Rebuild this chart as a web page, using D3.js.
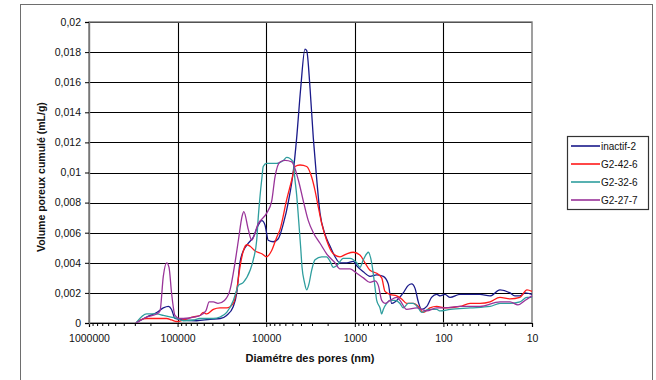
<!DOCTYPE html>
<html><head><meta charset="utf-8">
<script src="https://cdn.jsdelivr.net/npm/d3@7"></script>
<style>
body{margin:0;background:#fff;}
svg{display:block;font-family:"Liberation Sans",Arial,sans-serif;}
</style></head>
<body>
<svg id="c" width="656" height="380"></svg>
<script>
// ---- Data (diameter in nm, cumulative pore volume in mL/g) ----
const seriesNames = ["inactif-2", "G2-42-6", "G2-32-6", "G2-27-7"];
const seriesColors = ["#1a1a8a", "#ff1a1a", "#2f9e9e", "#993399"];

const inactif2 = [
 [295000,0],[223000,0.0004],[172000,0.0007],[145000,0.0010],[127000,0.0011],[117000,0.0009],
 [107000,0.0003],[86000,0.0002],[61000,0.00015],[43000,0.00025],[33000,0.0003],[28000,0.0005],
 [23500,0.0011],[21500,0.0020],[19800,0.0040],[18100,0.0048],[15900,0.0053],[14000,0.0057],
 [12300,0.0065],[11200,0.0068],[10300,0.0065],[9500,0.0055],[8300,0.0054],[7300,0.0056],
 [6400,0.0066],[5600,0.0081],[4940,0.0101],[4530,0.0123],[4080,0.0156],[3650,0.0182],
 [3490,0.0181],[3200,0.0156],[2940,0.0123],[2740,0.0101],[2470,0.0073],[2170,0.0059],
 [1900,0.0051],[1670,0.0044],[1470,0.0040],[1230,0.0040],[1040,0.0041],[950,0.0038],
 [800,0.0034],[674,0.0031],[566,0.0032],[477,0.0031],[419,0.0026],[383,0.0013],[352,0.0014],
 [323,0.0016],[284,0.0020],[249,0.0025],[228,0.0026],[209,0.0023],[192,0.0014],[176,0.0009],
 [154,0.0011],[136,0.0017],[119,0.0019],[109,0.0018],[96,0.0019],[84,0.0017],[65,0.0019],
 [50,0.0019],[38.6,0.0019],[29.8,0.0018],[23,0.0022],[17.7,0.0020],[15.6,0.0018],[13.7,0.0018],
 [12,0.0020],[10,0.0019]
];
const g2_42_6 = [
 [295000,0],[266000,0.0002],[223000,0.0003],[172000,0.0003],[133000,0.0003],[117000,0.0002],
 [102000,0.0001],[86000,0.0002],[66500,0.0004],[55900,0.0005],[51300,0.0007],[47000,0.0006],
 [39500,0.0009],[33200,0.0010],[27900,0.0010],[23500,0.0013],[21500,0.0022],[19800,0.0037],
 [18100,0.0048],[16600,0.0052],[15200,0.0051],[13400,0.0048],[11200,0.0046],[9900,0.0044],
 [8700,0.0048],[7600,0.0057],[6990,0.0062],[5870,0.0082],[5150,0.0095],[4730,0.0104],
 [4150,0.0105],[3490,0.0104],[3070,0.0097],[2810,0.0088],[2580,0.0077],[2360,0.0066],
 [2080,0.0055],[1750,0.0046],[1470,0.0044],[1230,0.0046],[1040,0.0047],[870,0.0045],
 [767,0.0040],[674,0.0035],[566,0.0033],[497,0.0030],[456,0.0021],[401,0.0019],[337,0.0018],
 [296,0.0016],[260,0.0013],[219,0.0013],[192,0.0011],[169,0.0007],[142,0.0010],[119,0.0011],
 [96,0.0010],[65,0.0011],[50,0.0013],[38.6,0.0013],[29.8,0.0014],[23,0.0017],[17.7,0.0016],
 [13.7,0.0017],[11.4,0.0022],[10,0.0021]
];
const g2_32_6 = [
 [295000,0],[223000,0.0006],[172000,0.0006],[145000,0.0005],[122000,0.0004],[102000,0.0003],
 [86000,0.00015],[66500,0.0002],[55900,0.0003],[39500,0.0003],[33200,0.0004],[27900,0.0007],
 [23500,0.0015],[21500,0.0022],[20600,0.0025],[18100,0.0027],[15200,0.0035],[14000,0.0042],
 [12800,0.0055],[12300,0.0070],[11750,0.0084],[11150,0.0097],[10800,0.0104],[9900,0.0106],
 [7600,0.0106],[6400,0.0108],[5870,0.0110],[4940,0.0107],[4770,0.0097],[4530,0.0085],
 [4300,0.0068],[4080,0.0050],[3940,0.0037],[3700,0.0027],[3490,0.0022],[3290,0.0026],
 [3070,0.0035],[2810,0.0042],[2360,0.0044],[2080,0.0044],[1900,0.0041],[1750,0.0037],
 [1600,0.0038],[1350,0.0043],[1130,0.0043],[952,0.0040],[873,0.0037],[802,0.0042],
 [734,0.0046],[704,0.0047],[645,0.0040],[592,0.0024],[566,0.0015],[519,0.0010],[497,0.0006],
 [477,0.0009],[437,0.0013],[401,0.0015],[352,0.0015],[309,0.0013],[284,0.0010],[249,0.0013],
 [219,0.0013],[192,0.0010],[176,0.0007],[148,0.0009],[119,0.0009],[109,0.0008],[84,0.0009],
 [50,0.0010],[29.8,0.0011],[23,0.0013],[17.7,0.0013],[13.7,0.0014],[11.4,0.0017],[10,0.0017]
];
const g2_27_7 = [
 [295000,0],[223000,0.0004],[172000,0.0006],[158000,0.0008],[145000,0.0031],[133000,0.0040],
 [125000,0.0037],[117000,0.0020],[107000,0.0005],[96000,0.0003],[86000,0.0003],[63600,0.0004],
 [55900,0.0005],[48000,0.0008],[44000,0.0014],[39500,0.0014],[35000,0.0013],[29600,0.0015],
 [25600,0.0022],[22500,0.0040],[20600,0.0055],[18700,0.0071],[17900,0.0074],[15900,0.0062],
 [14600,0.0055],[12300,0.0066],[9870,0.0073],[8670,0.0081],[7960,0.0097],[6990,0.0107],
 [6130,0.0108],[5150,0.0107],[4340,0.0095],[3810,0.0081],[3350,0.0068],[2940,0.0060],
 [2470,0.0053],[2080,0.0046],[1670,0.0040],[1470,0.0036],[1130,0.0036],[950,0.0033],
 [800,0.0030],[674,0.0027],[592,0.0028],[543,0.0025],[497,0.0015],[456,0.0013],[401,0.0015],
 [337,0.0017],[309,0.0015],[260,0.0009],[200,0.0010],[154,0.0008],[119,0.0010],[96,0.0010],
 [65,0.0011],[38.6,0.0011],[23,0.0014],[17.7,0.0014],[14.4,0.0012],[12,0.0015],[10,0.0018]
];
const seriesData = [inactif2, g2_42_6, g2_32_6, g2_27_7];

const xTickValues = [1000000, 100000, 10000, 1000, 100, 10];
const xTickLabels = ["1000000", "100000", "10000", "1000", "100", "10"];
const yTickValues = [0, 0.002, 0.004, 0.006, 0.008, 0.01, 0.012, 0.014, 0.016, 0.018, 0.02];
const yTickLabels = ["0", "0,002", "0,004", "0,006", "0,008", "0,01", "0,012", "0,014", "0,016", "0,018", "0,02"];

const xTitle = "Diamétre des pores (nm)";
const yTitle = "Volume poreux cumulé (mL/g)";

// ---- Drawing ----
const svg = d3.select("#c");
const L = 89, R = 532, T = 22, B = 323;
const x = d3.scaleLog().domain([1000000, 10]).range([L, R]);
const y = d3.scaleLinear().domain([0, 0.02]).range([B, T]);

// outer frame
svg.append("rect").attr("x", 20.5).attr("y", 4.5).attr("width", 632).attr("height", 380)
  .attr("fill", "none").attr("stroke", "#6e6e6e").attr("stroke-width", 1);

// grid
const grid = svg.append("g");
grid.selectAll("line.h").data(yTickValues.slice(1)).join("line")
  .attr("x1", L).attr("x2", R).attr("y1", d => Math.round(y(d)) + 0.5).attr("y2", d => Math.round(y(d)) + 0.5)
  .attr("stroke", "#000").attr("stroke-width", 1.1);
grid.selectAll("line.v").data(xTickValues.slice(1, -1)).join("line")
  .attr("y1", T).attr("y2", B).attr("x1", d => Math.round(x(d)) + 0.5).attr("x2", d => Math.round(x(d)) + 0.5)
  .attr("stroke", "#000").attr("stroke-width", 1.1);

// plot border
svg.append("rect").attr("x", L).attr("y", T).attr("width", R - L).attr("height", B - T)
  .attr("fill", "none").attr("stroke", "#777").attr("stroke-width", 1.4);

// series
const line = d3.line().x(d => x(d[0])).y(d => y(d[1])).curve(d3.curveMonotoneX);
seriesData.forEach((s, i) => {
  svg.append("path").datum(s.slice().sort((a, b) => b[0] - a[0]))
    .attr("d", line).attr("fill", "none")
    .attr("stroke", seriesColors[i]).attr("stroke-width", 1.3);
});

// x axis
const xAxis = d3.axisBottom(x).tickValues(xTickValues).tickFormat((d, i) => xTickLabels[i]).tickSize(4).tickPadding(8);
const gx = svg.append("g").attr("transform", `translate(0,${B})`).call(xAxis);
gx.select(".domain").attr("stroke", "#000").attr("stroke-width", 1.2);
gx.selectAll(".tick line").attr("stroke", "#000");
gx.selectAll("text").attr("font-size", 10.5).attr("fill", "#111");
// minor ticks
const minor = [];
for (let e = 1; e < 6; e++) for (let k = 2; k <= 9; k++) minor.push(k * Math.pow(10, e));
gx.selectAll("line.minor").data(minor).join("line").attr("class", "minor")
  .attr("x1", d => x(d)).attr("x2", d => x(d)).attr("y1", 0).attr("y2", 3)
  .attr("stroke", "#000").attr("stroke-width", 1);

// y axis
const yAxis = d3.axisLeft(y).tickValues(yTickValues).tickFormat((d, i) => yTickLabels[i]).tickSize(4).tickPadding(4);
const gy = svg.append("g").attr("transform", `translate(${L},0)`).call(yAxis);
gy.select(".domain").attr("stroke", "#777").attr("stroke-width", 1.4);
gy.selectAll(".tick line").attr("stroke", "#000");
gy.selectAll("text").attr("font-size", 10.5).attr("fill", "#111");

// titles
svg.append("text").attr("x", 310).attr("y", 362).attr("text-anchor", "middle")
  .attr("font-size", 11).attr("font-weight", "bold").attr("fill", "#111").text(xTitle);
svg.append("text").attr("transform", "translate(45,177) rotate(-90)").attr("text-anchor", "middle")
  .attr("font-size", 10.5).attr("font-weight", "bold").attr("fill", "#111").text(yTitle);

// legend
const lg = svg.append("g");
lg.append("rect").attr("x", 567.5).attr("y", 136.5).attr("width", 81).attr("height", 73)
  .attr("fill", "#fff").attr("stroke", "#333").attr("stroke-width", 1.2);
seriesNames.forEach((n, i) => {
  const yy = 146 + i * 18;
  lg.append("line").attr("x1", 571).attr("x2", 600).attr("y1", yy).attr("y2", yy)
    .attr("stroke", seriesColors[i]).attr("stroke-width", 1.6);
  lg.append("text").attr("x", 601).attr("y", yy + 3.5).attr("font-size", 10).attr("fill", "#111").text(n);
});
</script>
</body></html>
